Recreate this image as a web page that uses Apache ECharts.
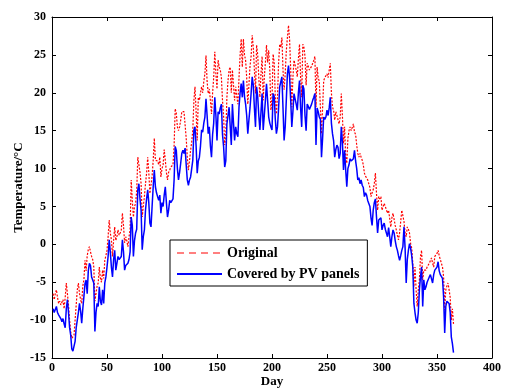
<!DOCTYPE html>
<html>
<head>
<meta charset="utf-8">
<script src="https://cdn.jsdelivr.net/npm/echarts@6/dist/echarts.min.js"></script>
<style>
  html, body { margin: 0; padding: 0; background: #fff; }
  #chart { width: 512px; height: 389px; }
</style>
</head>
<body>
<div id="chart"></div>
<script>
// daily temperatures, day 1..365
const original = [
  -6.5, -7.3, -6.5, -6.0, -7.0, -7.8, -7.5, -8.0, -8.2, -7.3,
  -8.5, -7.0, -5.1, -6.5, -8.0, -10.0, -11.5, -12.4, -12.6, -12.0,
  -10.0, -8.0, -6.0, -5.1, -6.5, -7.3, -7.8, -5.5, -4.7, -2.1,
  -3.5, -1.5, -0.7, -0.3, -1.0, -1.6, -2.0, -3.0, -7.5, -6.5,
  -5.5, -5.1, -3.0, -4.5, -5.0, -3.4, -4.5, -2.1, -1.5, -0.8,
  1.0, 3.2, 1.5, 0.6, -1.6, 0.5, 2.3, 0.5, 1.0, 1.9,
  1.2, 1.5, 1.9, 4.1, 2.5, 0.2, 1.0, 0.5, -0.3, 1.0,
  1.9, 8.5, 5.8, 3.6, 5.0, 5.4, 7.0, 11.5, 11.5, 9.5,
  8.0, 3.6, 5.0, 6.3, 8.0, 9.4, 11.5, 9.5, 6.7, 6.7,
  9.0, 11.1, 14.0, 11.1, 11.1, 11.0, 10.5, 11.5, 8.9, 10.0,
  10.5, 12.5, 11.1, 9.5, 8.5, 9.5, 9.8, 10.2, 10.0, 10.5,
  13.0, 17.9, 17.3, 15.5, 15.0, 15.5, 16.4, 17.5, 17.7, 17.5,
  17.3, 14.0, 11.5, 9.8, 11.0, 12.4, 13.5, 15.1, 19.0, 20.8,
  17.5, 13.7, 19.4, 19.0, 20.0, 20.8, 20.0, 21.5, 22.5, 24.9,
  21.5, 19.9, 20.5, 19.0, 17.2, 20.0, 22.0, 25.4, 22.5, 20.5,
  24.3, 23.4, 23.0, 22.0, 19.0, 17.0, 13.1, 14.5, 19.4, 21.6,
  23.0, 23.4, 20.0, 23.0, 21.0, 19.0, 20.8, 19.5, 18.5, 22.0,
  25.0, 27.1, 23.4, 27.1, 25.0, 24.3, 22.0, 18.5, 21.0, 23.5,
  24.8, 27.6, 26.0, 23.0, 19.9, 26.3, 25.0, 22.0, 19.4, 22.5,
  24.8, 19.0, 22.0, 24.0, 26.3, 24.0, 25.6, 23.0, 17.7, 19.0,
  25.1, 24.0, 19.4, 17.2, 19.5, 24.0, 26.4, 26.0, 27.3, 23.0,
  20.4, 22.5, 25.5, 27.3, 28.9, 27.0, 23.0, 18.1, 22.0, 24.3,
  24.5, 23.0, 22.1, 24.5, 26.4, 22.0, 19.4, 26.4, 26.0, 24.8,
  21.0, 23.9, 23.5, 23.0, 23.0, 23.5, 23.9, 24.3, 24.8, 18.1,
  23.4, 22.0, 21.5, 18.1, 14.6, 18.0, 21.6, 22.0, 22.2, 22.5,
  22.0, 23.0, 23.9, 20.0, 18.1, 17.7, 16.4, 17.5, 17.0, 17.2,
  15.9, 16.8, 19.9, 17.0, 13.3, 15.5, 11.5, 10.7, 14.0, 15.0,
  15.5, 15.0, 15.2, 15.9, 14.8, 14.5, 13.1, 12.0, 11.5, 12.0,
  11.5, 11.1, 10.5, 9.4, 9.0, 9.0, 8.5, 8.0, 7.5, 6.3,
  6.8, 7.2, 8.0, 9.4, 6.7, 4.5, 6.3, 6.0, 6.3, 4.5,
  5.0, 5.4, 5.0, 4.8, 4.1, 4.5, 4.3, 2.3, 3.5, 4.1,
  4.0, 2.5, 1.9, 1.2, 0.6, 1.5, 3.0, 4.5, 4.7, 3.0,
  1.5, 1.0, 2.3, 2.0, 1.5, 0.1, -0.5, -2.5, -5.6, -3.0,
  -6.0, -8.2, -6.0, -4.7, -1.6, -0.8, -4.7, -3.4, -3.6, -3.4,
  -3.0, -2.8, -2.5, -2.5, -1.8, -2.5, -3.0, -1.6, -1.5, -1.2,
  -0.8, -1.5, -2.0, -2.5, -3.0, -4.3, -8.7, -6.0, -5.5, -5.1,
  -6.0, -7.0, -10.0, -8.5, -10.5
];

const covered = [
  -8.5, -9.0, -8.8, -8.2, -9.0, -9.3, -9.5, -9.8, -10.2, -9.8,
  -10.5, -11.0, -8.5, -7.3, -9.0, -11.0, -12.0, -13.8, -14.1, -14.3,
  -12.8, -11.0, -10.0, -9.0, -7.8, -8.8, -10.4, -8.5, -6.9, -5.2,
  -4.7, -6.5, -3.5, -2.5, -2.8, -4.3, -4.5, -5.1, -11.5, -9.0,
  -7.8, -8.2, -5.6, -7.5, -8.0, -6.0, -7.8, -5.1, -4.3, -3.0,
  -1.6, 0.6, -1.0, -3.0, -4.3, -2.0, -0.8, -3.4, -2.5, -1.6,
  -2.0, -1.8, -1.6, 0.6, -1.0, -3.4, -2.8, -3.0, -2.5, -2.0,
  -1.0, 3.6, 2.5, -1.6, 0.5, 1.5, 2.0, 7.2, 8.0, 6.0,
  4.5, -0.7, 1.0, 1.9, 4.5, 6.0, 7.2, 5.5, 2.8, 2.3,
  5.0, 7.6, 9.8, 7.6, 6.8, 6.3, 5.8, 6.5, 4.1, 5.5,
  5.0, 6.5, 7.6, 5.5, 3.6, 4.5, 5.8, 5.5, 5.5, 6.0,
  8.5, 12.9, 12.4, 10.0, 8.5, 9.5, 10.7, 12.0, 12.4, 12.0,
  12.7, 10.5, 8.5, 7.8, 8.5, 8.9, 10.0, 11.1, 15.1, 15.5,
  13.0, 9.4, 11.0, 11.5, 13.0, 15.1, 14.8, 16.0, 16.8, 19.2,
  17.0, 14.6, 15.5, 13.0, 11.5, 14.5, 16.0, 19.4, 17.0, 13.7,
  17.5, 17.2, 18.0, 18.5, 14.5, 12.9, 10.2, 11.0, 15.9, 16.0,
  18.1, 18.2, 13.1, 18.5, 16.0, 13.7, 15.5, 14.6, 14.2, 18.1,
  20.0, 21.2, 19.4, 21.6, 19.5, 18.5, 17.0, 14.6, 16.4, 18.0,
  19.9, 22.1, 21.0, 18.0, 15.5, 20.8, 19.5, 17.0, 15.1, 17.5,
  19.9, 15.1, 17.0, 19.0, 21.2, 19.0, 16.8, 16.0, 15.5, 15.1,
  19.9, 19.5, 16.5, 14.6, 15.5, 18.0, 20.8, 21.0, 22.1, 18.0,
  13.7, 15.5, 19.0, 22.5, 23.6, 22.0, 19.0, 15.5, 17.5, 19.9,
  20.0, 18.5, 17.7, 20.0, 21.6, 18.0, 15.5, 21.0, 20.5, 17.0,
  15.0, 18.5, 18.2, 17.8, 18.0, 18.5, 19.0, 19.4, 19.9, 13.1,
  18.0, 17.5, 16.8, 16.5, 11.5, 14.0, 16.8, 16.5, 16.8, 17.7,
  17.0, 18.0, 19.4, 16.0, 14.6, 13.7, 11.5, 12.5, 13.1, 12.8,
  11.3, 12.0, 15.5, 13.5, 9.8, 12.4, 9.8, 7.6, 10.0, 10.5,
  11.3, 11.0, 11.2, 11.3, 12.4, 11.0, 10.0, 8.5, 8.8, 8.0,
  8.5, 7.8, 7.5, 6.3, 6.8, 6.5, 5.8, 5.4, 5.0, 3.5,
  2.5, 4.5, 5.5, 6.0, 3.6, 1.5, 3.2, 3.0, 3.5, 1.9,
  2.5, 2.8, 2.0, 1.5, 1.0, 2.2, 1.0, -0.3, 1.0, 1.9,
  1.5, 0.5, -0.3, -0.8, -1.5, -2.1, -1.5, -0.8, -0.3, 2.3,
  -0.5, -5.1, -2.0, -0.8, 0.1, -0.5, -1.5, -3.0, -7.8, -9.0,
  -10.0, -10.4, -9.0, -6.0, -4.3, -3.0, -8.2, -4.7, -6.0, -5.6,
  -5.0, -5.2, -4.3, -4.0, -3.8, -5.1, -4.0, -3.4, -3.6, -3.0,
  -2.3, -3.5, -4.0, -3.8, -4.5, -6.9, -11.7, -8.2, -7.5, -7.3,
  -7.8, -9.0, -12.2, -13.1, -14.3
];

const seriesNames = ['Original', 'Covered by PV panels'];

const toPoints = (arr) => arr.map((v, i) => [i + 1, v]);

const chart = echarts.init(document.getElementById('chart'));

const font = 'Liberation Serif, Times New Roman, serif';
const tickLabel = { color: '#000', fontFamily: font, fontWeight: 'bold', fontSize: 12 };
const axisLine = { show: true, onZero: false, lineStyle: { color: '#000', width: 1 } };
const axisTick = { show: true, inside: true, length: 4, lineStyle: { color: '#000' } };

const option = {
  animation: false,
  grid: { left: 52, right: 20, top: 17, bottom: 31, outerBoundsMode: 'none' },
  legend: {
    orient: 'vertical',
    left: 170,
    top: 240,
    itemWidth: 45,
    itemHeight: 12,
    itemGap: 7,
    padding: [6, 8, 5, 6],
    borderColor: '#000',
    borderWidth: 1,
    backgroundColor: '#fff',
    itemStyle: { opacity: 0 },
    textStyle: { color: '#000', fontFamily: font, fontWeight: 'bold', fontSize: 14 },
    data: [
      { name: seriesNames[0], lineStyle: { type: [7, 5], width: 1.2 } },
      { name: seriesNames[1] },
    ],
  },
  xAxis: [
    {
      type: 'value',
      min: 0,
      max: 400,
      interval: 50,
      name: 'Day',
      nameLocation: 'middle',
      nameGap: 17,
      nameMoveOverlap: false,
      nameTextStyle: { color: '#000', fontFamily: font, fontWeight: 'bold', fontSize: 13 },
      axisLine,
      axisTick,
      axisLabel: { ...tickLabel, margin: 4 },
      splitLine: { show: false },
    },
    {
      type: 'value',
      position: 'top',
      min: 0,
      max: 400,
      interval: 50,
      axisLine,
      axisTick,
      axisLabel: { show: false },
      splitLine: { show: false },
    },
  ],
  yAxis: [
    {
      type: 'value',
      min: -15,
      max: 30,
      interval: 5,
      name: 'Temperature/°C',
      nameLocation: 'middle',
      nameGap: 27,
      nameMoveOverlap: false,
      nameTextStyle: { color: '#000', fontFamily: font, fontWeight: 'bold', fontSize: 13 },
      axisLine,
      axisTick,
      axisLabel: { ...tickLabel, margin: 6 },
      splitLine: { show: false },
    },
    {
      type: 'value',
      position: 'right',
      min: -15,
      max: 30,
      interval: 5,
      axisLine,
      axisTick,
      axisLabel: { show: false },
      splitLine: { show: false },
    },
  ],
  series: [
    {
      name: seriesNames[0],
      type: 'line',
      data: toPoints(original),
      showSymbol: false,
      symbol: 'none',
      color: '#ff0000',
      lineStyle: { color: '#ff0000', width: 1.2, type: [2, 1.5] },
      z: 2,
    },
    {
      name: seriesNames[1],
      type: 'line',
      data: toPoints(covered),
      showSymbol: false,
      symbol: 'none',
      color: '#0000ff',
      lineStyle: { color: '#0000ff', width: 1.5 },
      z: 3,
    },
  ],
};

chart.setOption(option);
</script>
</body>
</html>
